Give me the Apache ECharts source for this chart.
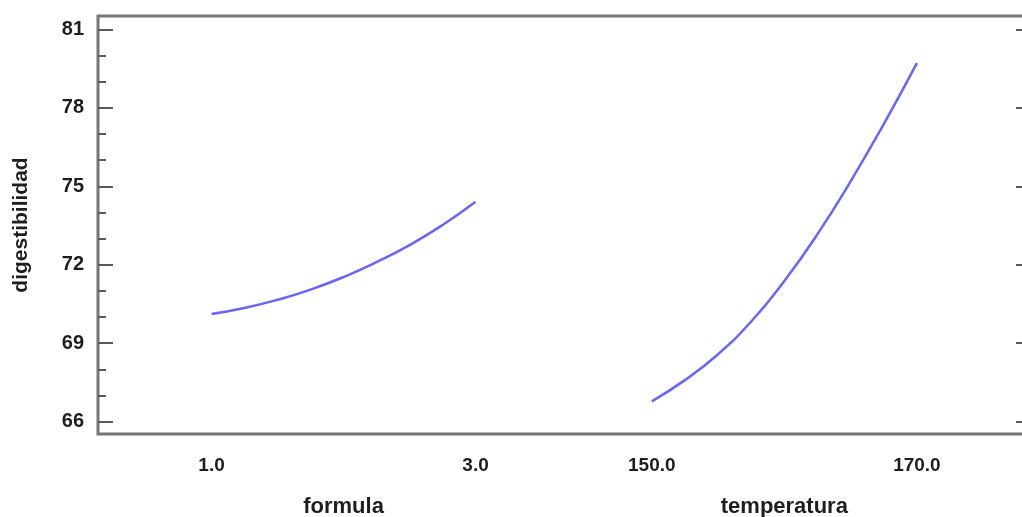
<!DOCTYPE html>
<html>
<head>
<meta charset="utf-8">
<script src="https://cdn.jsdelivr.net/npm/echarts@6/dist/echarts.min.js"></script>
<style>
html,body{margin:0;padding:0;background:#fff;}
#c{width:1022px;height:517px;}
</style>
</head>
<body>
<div id="c"></div>
<script>
// Data
const formulaX = [1.0, 1.25, 1.5, 1.75, 2.0, 2.25, 2.5, 2.75, 3.0];
const formulaY = [70.12, 70.35, 70.66, 71.05, 71.53, 72.1, 72.75, 73.52, 74.41];
const tempX = [150, 152.5, 155, 157.5, 160, 162.5, 165, 167.5, 170];
const tempY = [66.78, 67.59, 68.58, 69.83, 71.38, 73.17, 75.19, 77.38, 79.71];
const formulaTicks = [1.0, 3.0];
const tempTicks = [150.0, 170.0];
const yMajor = [66, 69, 72, 75, 78, 81];
const yMinor = [67, 68, 70, 71, 73, 74, 76, 77, 79, 80];
const yName = 'digestibilidad';
const factorNames = ['formula', 'temperatura'];

const FONT = "'Liberation Sans', Arial, sans-serif";
const lineColor = '#6666fa';
const tickColor = '#5a5a5a';

const chart = echarts.init(document.getElementById('c'), null, {renderer: 'canvas'});

const yRange = {min: 65.53, max: 81.51};
function yAx(pos, vals, len, labels, name) {
  const a = {
    type: 'value', position: pos, min: yRange.min, max: yRange.max,
    axisLine: {show: false},
    splitLine: {show: false},
    axisTick: {show: true, inside: true, length: len, customValues: vals,
      lineStyle: {color: tickColor, width: 2}},
    axisLabel: labels ? {show: true, customValues: vals, margin: 14,
      fontFamily: FONT, fontWeight: 'bold', fontSize: 20, color: '#1e1e1e'} : {show: false}
  };
  if (name) {
    a.name = name; a.nameLocation = 'middle'; a.nameGap = 66;
    a.nameTextStyle = {fontFamily: FONT, fontWeight: 'bold', fontSize: 21, color: '#1e1e1e'};
  }
  return a;
}
function xAx(min, max, ticks) {
  return {
    type: 'value', position: 'bottom', min: min, max: max,
    axisLine: {show: false}, axisTick: {show: false}, splitLine: {show: false},
    axisLabel: {show: true, customValues: ticks, margin: 22,
      formatter: v => Number(v).toFixed(1),
      fontFamily: FONT, fontWeight: 'bold', fontSize: 19, color: '#1e1e1e'}
  };
}

const option = {
  backgroundColor: '#fff',
  animation: false,
  grid: {left: 98, top: 16, width: 932, bottom: 83, show: true,
    outerBoundsMode: 'none', containLabel: false,
    borderColor: '#767676', borderWidth: 3, backgroundColor: 'transparent'},
  xAxis: [xAx(0.14, 7.2, formulaTicks), xAx(108.23, 178.53, tempTicks)],
  yAxis: [
    yAx('left', yMajor, 15, true, yName),
    yAx('left', yMinor, 8, false),
    yAx('right', yMajor, 14, false),
    yAx('right', yMinor, 8, false)
  ],
  series: [
    {type: 'line', xAxisIndex: 0, yAxisIndex: 0, smooth: true, showSymbol: false,
      lineStyle: {color: lineColor, width: 2.5},
      data: formulaX.map((x, i) => [x, formulaY[i]])},
    {type: 'line', xAxisIndex: 1, yAxisIndex: 0, smooth: true, showSymbol: false,
      lineStyle: {color: lineColor, width: 2.5},
      data: tempX.map((x, i) => [x, tempY[i]])}
  ]
};
chart.setOption(option);

// Factor names centred under each factor's tick labels
const c1 = (chart.convertToPixel({xAxisIndex: 0}, formulaTicks[0]) + chart.convertToPixel({xAxisIndex: 0}, formulaTicks[1])) / 2;
const c2 = (chart.convertToPixel({xAxisIndex: 1}, tempTicks[0]) + chart.convertToPixel({xAxisIndex: 1}, tempTicks[1])) / 2;
chart.setOption({
  graphic: [c1, c2].map((cx, i) => ({
    type: 'text', x: cx, y: 507,
    style: {text: factorNames[i], align: 'center', verticalAlign: 'middle',
      font: "bold 22px " + FONT, fill: '#1e1e1e'}
  }))
});
</script>
</body>
</html>
